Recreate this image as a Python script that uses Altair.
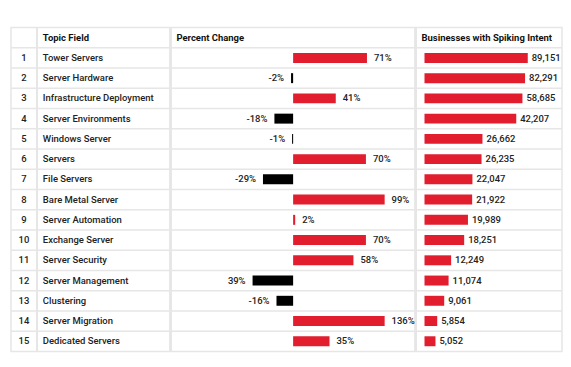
import altair as alt
import pandas as pd

row_nums = list(range(1, 16))
topics = ["Tower Servers", "Server Hardware", "Infrastructure Deployment", "Server Environments",
          "Windows Server", "Servers", "File Servers", "Bare Metal Server", "Server Automation",
          "Exchange Server", "Server Security", "Server Management", "Clustering",
          "Server Migration", "Dedicated Servers"]
pct_change = [71, -2, 41, -18, -1, 70, -29, 99, 2, 70, 58, -39, -16, 136, 35]
pct_labels = ["71%", "-2%", "41%", "-18%", "-1%", "70%", "-29%", "99%", "2%", "70%",
              "58%", "39%", "-16%", "136%", "35%"]
businesses = [89151, 82291, 58685, 42207, 26662, 26235, 22047, 21922, 19989, 18251,
              12249, 11074, 9061, 5854, 5052]
headers = ["Topic Field", "Percent Change", "Businesses with Spiking Intent"]

df = pd.DataFrame({"idx": row_nums, "num": [str(n) for n in row_nums], "topic": topics,
                   "pct": pct_change, "pct_label": pct_labels, "biz": businesses})

RED = "#e11d2e"
GRID = "#e6e6e6"
FONT = "Roboto"
TXT = "#222222"
FS = 9.5
W, H = 553, 325
# column left edges inside the table (layout)
C1, C2, C3 = 26, 160, 406

yscale = alt.Scale(type="band", domain=list(range(16)), paddingInner=0, paddingOuter=0)
Y = alt.Y("idx:O", scale=yscale, axis=None)

base = alt.Chart(df)

sep = base.mark_rule(color=GRID, strokeWidth=1.5).encode(
    y=alt.Y("idx:O", scale=yscale, axis=None, bandPosition=0))
vlines = [base.mark_rule(color=GRID, strokeWidth=1.5).encode(
    x=alt.value(c), y=alt.value(0), y2=alt.value(H)) for c in (C1, C2, C3)]

hd = pd.DataFrame({"idx": [0, 0, 0], "h": headers})
head_layers = [alt.Chart(hd.iloc[[i]]).mark_text(
    align="left", baseline="middle", font=FONT, fontWeight="bold", fontSize=FS,
    color="#111").encode(x=alt.value(c + 6), y=Y, text="h:N")
    for i, c in enumerate((C1, C2, C3))]

txt = dict(baseline="middle", font=FONT, fontWeight=500, fontSize=FS, color=TXT)

nums = base.mark_text(align="center", **txt).encode(x=alt.value(C1 / 2), y=Y, text="num:N")
tops = base.mark_text(align="left", **txt).encode(x=alt.value(C1 + 6), y=Y, text="topic:N")

xp = alt.X("pct:Q", scale=alt.Scale(domain=[-118, 88], range=[C2, C2 + 215], clamp=True),
           axis=None)
pct_layer = alt.layer(
    base.mark_bar(height=10).encode(
        x=xp, y=Y,
        color=alt.condition(alt.datum.pct >= 0, alt.value(RED), alt.value("#000000"))),
    base.transform_filter(alt.datum.pct >= 0).mark_text(align="left", dx=7, **txt).encode(
        x=xp, y=Y, text="pct_label:N"),
    base.transform_filter(alt.datum.pct < 0).mark_text(align="right", dx=-7, **txt).encode(
        x=xp, y=Y, text="pct_label:N"),
)

xb = alt.X("biz:Q", scale=alt.Scale(domain=[0, 44000, 60000, 83000, 90000],
                                    range=[C3 + 9, C3 + 105, C3 + 107.5, C3 + 110, C3 + 113]),
           axis=None)
biz_layer = alt.layer(
    base.mark_bar(height=10, color=RED).encode(x=xb, y=Y),
    base.mark_text(align="left", dx=4, **txt).encode(
        x=xb, y=Y, text=alt.Text("biz:Q", format=",")),
)

chart = alt.layer(
    sep, *vlines, nums, tops, *head_layers, pct_layer, biz_layer,
).resolve_scale(x="independent").properties(
    width=W, height=H,
    padding={"left": 2, "top": 18, "right": 0, "bottom": 0},
    background="white",
).configure_view(stroke=GRID, strokeWidth=1.5)

chart.save("out.html", embed_options={"renderer": "svg", "actions": False})
